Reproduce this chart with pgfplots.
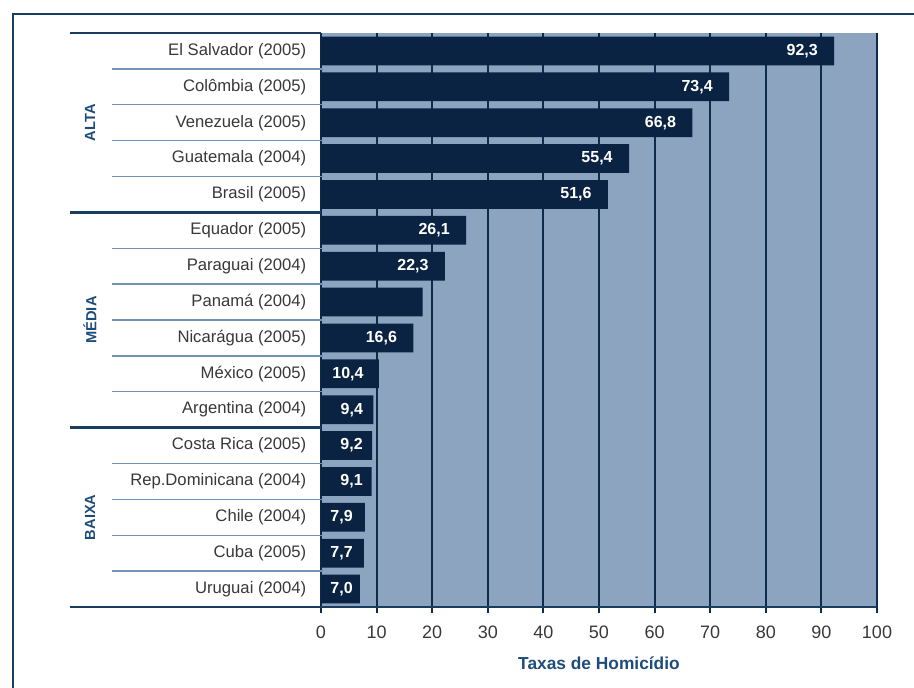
\documentclass[border=0pt]{standalone}
\usepackage{fontspec}
\setmainfont{Liberation Sans}
\usepackage{pgfplots}
\usepackage{pgfplotstable}
\pgfplotsset{compat=1.18}

\definecolor{barnavy}{HTML}{0A2343}
\definecolor{bgblue}{HTML}{8CA4C0}
\definecolor{gridnavy}{HTML}{0C2B4D}
\definecolor{labgray}{HTML}{383838}
\definecolor{grpblue}{HTML}{1E4C7A}
\definecolor{sepblue}{HTML}{7393B6}
\definecolor{framenavy}{HTML}{1A3C5F}

% taxas de homicidio por 100 mil habitantes; lx = posicao (borda direita) do rotulo
\pgfplotstableread{
y  x     lx    lab
0  92.3  89.4  {92,3}
1  73.4  70.5  {73,4}
2  66.8  63.9  {66,8}
3  55.4  52.5  {55,4}
4  51.6  48.7  {51,6}
5  26.1  23.2  {26,1}
6  22.3  19.4  {22,3}
7  18.3  15.4  {}
8  16.6  13.7  {16,6}
9  10.4  7.7   {10,4}
10 9.4   7.6   {9,4}
11 9.2   7.55  {9,2}
12 9.1   7.55  {9,1}
13 7.9   5.75  {7,9}
14 7.7   5.75  {7,7}
15 7.0   5.75  {7,0}
}\taxas

\begin{document}
\begin{tikzpicture}
\path[use as bounding box] (-240.75pt,-60.75pt) rectangle (444.75pt,455.25pt);
% moldura externa
\draw[framenavy, line width=2.2pt] (-231pt,-62pt) -- (-231pt,444.75pt) -- (446pt,444.75pt);
\begin{axis}[
    scale only axis,
    width=417pt, height=430.5pt,
    xmin=0, xmax=100,
    ymin=-0.5, ymax=15.5,
    y dir=reverse,
    clip=false,
    axis background/.style={fill=bgblue},
    axis line style={draw=none},
    xtick={0,10,...,100},
    ytick={0,...,15},
    yticklabels={El Salvador (2005), Colômbia (2005), Venezuela (2005),
        Guatemala (2004), Brasil (2005), Equador (2005), Paraguai (2004),
        Panamá (2004), Nicarágua (2005), México (2005), Argentina (2004),
        Costa Rica (2005), Rep.Dominicana (2004), Chile (2004),
        Cuba (2005), Uruguai (2004)},
    ytick style={draw=none},
    xtick style={draw=gridnavy, line width=1.5pt},
    tick align=outside,
    xtick pos=bottom,
    major tick length=4.5pt,
    xmajorgrids,
    grid style={draw=gridnavy, line width=1.5pt},
    /pgf/number format/assume math mode=true,
    xticklabel style={font=\fontsize{13.5}{15}\selectfont, text=labgray, yshift=-6pt},
    yticklabel style={font=\fontsize{12.5}{14}\selectfont, text=labgray, xshift=-3pt},
    xlabel={Taxas de Homicídio},
    xlabel style={at={(rel axis cs:0.5,0)}, anchor=center, yshift=-42pt,
        font=\bfseries\fontsize{13}{15}\selectfont, text=grpblue},
]
\addplot[xbar, bar width=0.8, draw=none, fill=barnavy] table[x=x, y=y] {\taxas};
% rotulos dos valores
\addplot[sharp plot, draw=none, mark=none,
    nodes near coords, point meta=explicit symbolic,
    nodes near coords style={anchor=east, inner sep=0pt,
        text=white, font=\bfseries\fontsize{12}{14}\selectfont}]
    table[x=lx, y=y, meta=lab] {\taxas};

% linhas finas entre paises
\pgfplotsinvokeforeach{0.5,1.5,2.5,3.5,5.5,6.5,7.5,8.5,9.5,11.5,12.5,13.5,14.5}{
    \draw[sepblue, line width=1.1pt] ([xshift=-156.75pt]axis cs:0,#1) -- ([xshift=1.5pt]axis cs:0,#1);
}
% linhas de grupo
\pgfplotsinvokeforeach{-0.5,4.5,10.5}{
    \draw[framenavy, line width=2pt] ([xshift=-188.25pt]axis cs:0,#1) -- (axis cs:0,#1);
}
\draw[framenavy, line width=2pt] ([xshift=-188.25pt]axis cs:0,15.5) -- (axis cs:100,15.5);

% rotulos dos grupos
\node[rotate=90, text=grpblue, font=\bfseries\fontsize{11}{13}\selectfont]
    at ([xshift=-173.25pt]axis cs:0,2) {ALTA};
\node[rotate=90, text=grpblue, font=\bfseries\fontsize{11}{13}\selectfont]
    at ([xshift=-173.25pt]axis cs:0,7.5) {MÉDIA};
\node[rotate=90, text=grpblue, font=\bfseries\fontsize{11}{13}\selectfont]
    at ([xshift=-173.25pt]axis cs:0,13) {BAIXA};
\end{axis}
\end{tikzpicture}
\end{document}
